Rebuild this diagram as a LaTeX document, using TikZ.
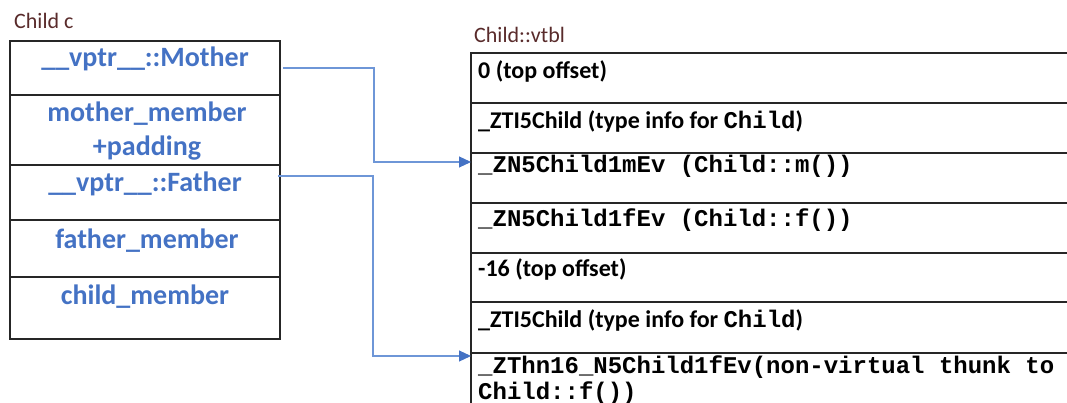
\documentclass[tikz,border=0pt]{standalone}
\usepackage{fontspec}
\setmainfont{Carlito}
\setmonofont{Liberation Mono}
\usetikzlibrary{arrows.meta}
\definecolor{fieldblue}{RGB}{68,114,196}
\definecolor{linkblue}{RGB}{110,150,215}
\definecolor{titlebrown}{RGB}{89,43,43}
\tikzset{
  cell/.style={draw=black!85, line width=1.3pt, inner sep=0pt, outer sep=0pt, anchor=north west},
  field/.style={text=fieldblue, font=\fontsize{28}{34}\selectfont\bfseries, anchor=base, inner sep=0pt},
  entry/.style={font=\fontsize{24}{28}\selectfont\bfseries, anchor=base west, inner sep=0pt},
  title/.style={text=titlebrown, font=\fontsize{22}{26}\selectfont, anchor=base west, inner sep=0pt},
  link/.style={draw=linkblue, line width=1.1pt, -{Triangle[length=12pt,width=11pt,fill=fieldblue,color=fieldblue]}}
}
\newcommand{\mtt}[1]{{\ttfamily\bfseries #1}}
\begin{document}
\begin{tikzpicture}[x=1pt,y=-1pt]
\useasboundingbox (0,0) rectangle (1067,403);
\begin{scope}
\clip (0,0) rectangle (1067,403);
% titles
\node[title] (tc) at (14,29) {Child c};
\node[title] (tv) at (474,43) {Child::vtbl};
% left object layout
\node[cell, minimum width=270pt, minimum height=54pt] (L1) at (10,41) {};
\node[cell, minimum width=270pt, minimum height=70pt] (L2) at (10,95) {};
\node[cell, minimum width=270pt, minimum height=55pt] (L3) at (10,165) {};
\node[cell, minimum width=270pt, minimum height=57pt] (L4) at (10,220) {};
\node[cell, minimum width=270pt, minimum height=62pt] (L5) at (10,277) {};
\node[field] (t1) at (145,67) {\_\_vptr\_\_::Mother};
\node[field] (t2a) at (147,122) {mother\_member};
\node[field] (t2b) at (147,156) {+padding};
\node[field] (t3) at (145,192) {\_\_vptr\_\_::Father};
\node[field] (t4) at (147,248) {father\_member};
\node[field] (t5) at (145,304) {child\_member};
% right vtable
\node[cell, minimum width=620pt, minimum height=50pt] (R1) at (471,53) {};
\node[cell, minimum width=620pt, minimum height=50pt] (R2) at (471,103) {};
\node[cell, minimum width=620pt, minimum height=50pt] (R3) at (471,153) {};
\node[cell, minimum width=620pt, minimum height=50pt] (R4) at (471,203) {};
\node[cell, minimum width=620pt, minimum height=49pt] (R5) at (471,253) {};
\node[cell, minimum width=620pt, minimum height=51pt] (R6) at (471,302) {};
\node[cell, minimum width=620pt, minimum height=80pt] (R7) at (471,353) {};
\node[entry] (e1) at (478,79) {0 (top offset)};
\node[entry] (e2) at (478,129) {\_ZTI5Child (type info for \mtt{Child})};
\node[entry] (e3) at (478,173) {\mtt{\_ZN5Child1mEv (Child::m())}};
\node[entry] (e4) at (478,226) {\mtt{\_ZN5Child1fEv (Child::f())}};
\node[entry] (e5) at (478,276) {-16 (top offset)};
\node[entry] (e6) at (478,327) {\_ZTI5Child (type info for \mtt{Child})};
\node[entry] (e7a) at (478,373) {\mtt{\_ZThn16\_N5Child1fEv(non-virtual thunk to}};
\node[entry] (e7b) at (478,399) {\mtt{Child::f())}};
% connectors
\coordinate (s1) at (283,68);
\coordinate (d1) at (471,162);
\coordinate (s2) at (278,176);
\coordinate (d2) at (471,356);
\draw[link] (s1) -- (374,68) |- (d1);
\draw[link] (s2) -- (373,176) |- (d2);
\end{scope}
\end{tikzpicture}
\end{document}
